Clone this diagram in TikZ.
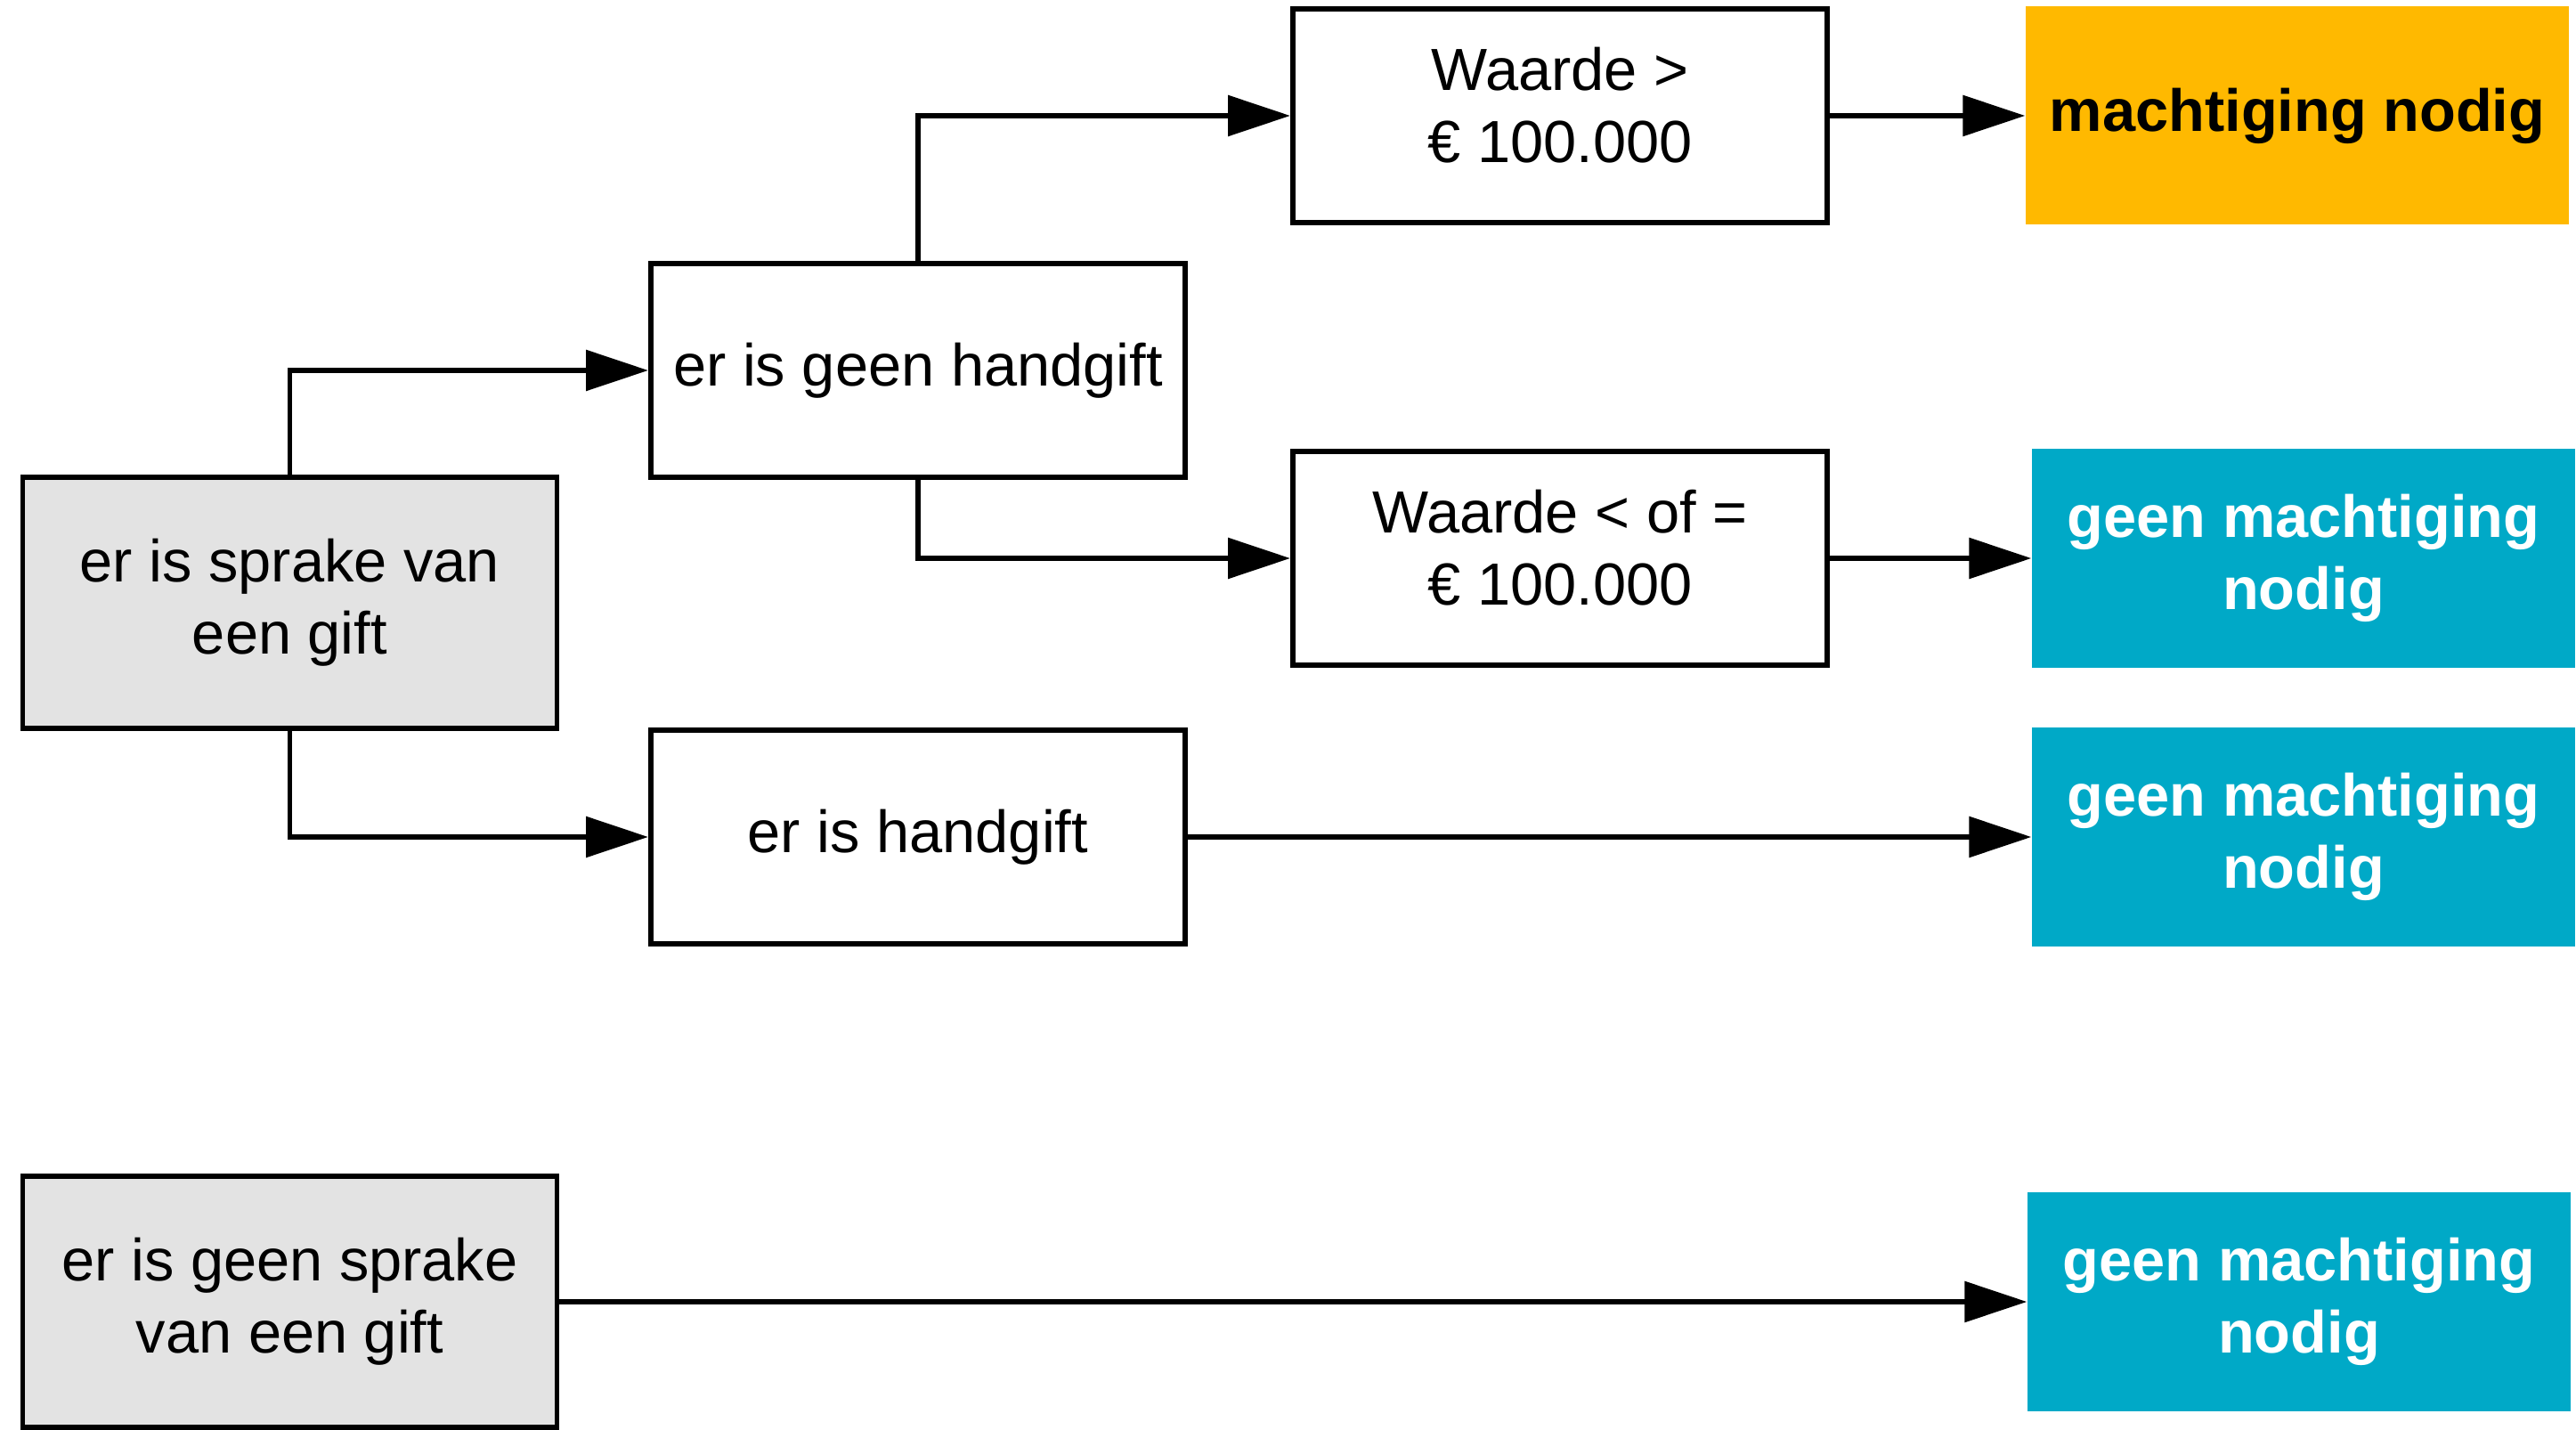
\documentclass[tikz,border=0pt]{standalone}
\usepackage{fontspec}
\setmainfont{Liberation Sans}
\usepackage{tikz}
\usetikzlibrary{positioning,arrows.meta}
\definecolor{giftcol}{HTML}{E3E3E3}
\definecolor{needcol}{HTML}{FFB900}
\definecolor{freecol}{HTML}{00A9C7}

\begin{document}
\begin{tikzpicture}[
        giftnode/.style={rectangle, draw=black, fill=giftcol, line width=1.7pt,
          minimum width=6cm, minimum height=2.82cm, inner sep=0pt, align=center,
        font=\fontsize{19}{23}\selectfont},
        condnode/.style={rectangle, draw=black, fill=white, line width=1.7pt,
          minimum width=6cm, minimum height=2.4cm, inner sep=0pt, align=center,
        font=\fontsize{19}{23}\selectfont},
        neednode/.style={rectangle, fill=needcol, minimum width=6.1cm,
          minimum height=2.45cm, inner sep=0pt, align=center,
        font=\fontsize{19}{23}\selectfont\bfseries},
        freenode/.style={rectangle, fill=freecol, text=white, minimum width=6.1cm,
          minimum height=2.46cm, inner sep=0pt, align=center,
        font=\fontsize{19}{23}\selectfont\bfseries},
        arr/.style={-{Triangle[length=7mm, width=4.5mm]}, line width=1.7pt},
      ]
      \useasboundingbox (0,0) rectangle (28.93,-16.06);

      \node[giftnode] (gift) at (3.255, -6.77) {er is sprake van\\een gift};
      \node[condnode] (nohand) at (10.31, -4.16) {er is geen handgift};
      \node[condnode] (hand) at (10.31, -9.40) {er is handgift};

      \node[condnode] (above) at (17.52, -1.30) {Waarde >\\€ 100.000\strut};
      \node[condnode] (below) at (17.52, -6.27) {Waarde < of =\\€ 100.000\strut};

      \node[neednode] (need) at (25.80, -1.30) {machtiging nodig};
      \node[freenode] (free1) at (25.87, -6.27) {geen machtiging\\nodig};
      \node[freenode] (free2) at (25.87, -9.40) {geen machtiging\\nodig};

      \node[giftnode] (nogift) at (3.255, -14.62) {er is geen sprake\\van een gift};
      \node[freenode] (free3) at (25.82, -14.62) {geen machtiging\\nodig};

      \draw[arr] (gift.north) |- (nohand.west);
      \draw[arr] (gift.south) |- (hand.west);
      \draw[arr] (nohand.north) |- (above.west);
      \draw[arr] (nohand.south) |- (below.west);

      \draw[arr] (above) -- (need);
      \draw[arr] (below) -- (free1);
      \draw[arr] (hand) -- (free2);
      \draw[arr] (nogift) -- (free3);
    \end{tikzpicture}
\end{document}
